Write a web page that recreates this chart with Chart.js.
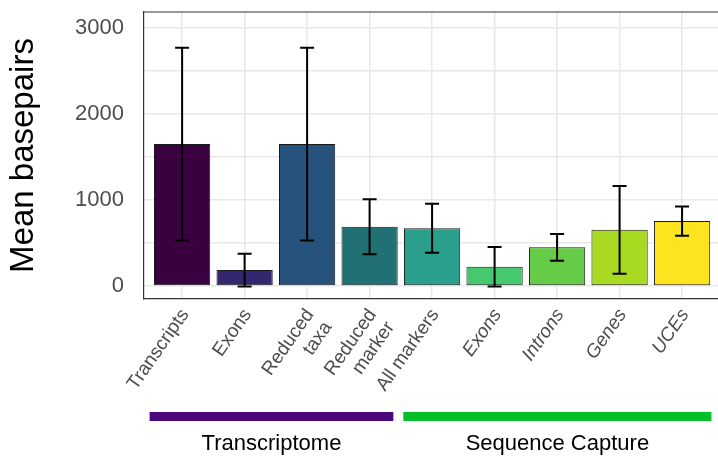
<!DOCTYPE html>
<html>
<head>
<meta charset="utf-8">
<script src="https://cdn.jsdelivr.net/npm/chart.js@4"></script>
<style>
  html, body { margin: 0; padding: 0; background: #fff; }
  #wrap { width: 718px; height: 457px; }
</style>
</head>
<body>
<div id="wrap"><canvas id="myChart" width="718" height="457"></canvas></div>
<script>
const categories = [
  'Transcripts',
  'Exons',
  ['Reduced', 'taxa'],
  ['Reduced', 'marker'],
  'All markers',
  'Exons',
  'Introns',
  'Genes',
  'UCEs',
];
const meanBp = [1650, 185, 1650, 690, 672, 225, 450, 653, 755];
const errBp = [1120, 190, 1120, 320, 285, 230, 155, 510, 170];
const yTicks = [0, 500, 1000, 1500, 2000, 2500, 3000];

// sample groups, in category units
const groupNames = ['Transcriptome', 'Sequence Capture'];
const groupFrom = [-0.52, 3.54];
const groupTo = [3.38, 8.47];

const barColors = ['#3a0040', '#34266f', '#27527c', '#217074', '#2aa08c',
                   '#45c86e', '#66cb47', '#a8da22', '#fce51e'];
const groupColors = ['#4b0679', '#05bf2a'];
const FONT = '"Liberation Sans", Arial, Helvetica, sans-serif';

const ctx = document.getElementById('myChart').getContext('2d');

// keep the panel edges where we put them
function noPadding(scale) {
  scale.paddingLeft = 0;
  scale.paddingRight = 0;
  scale.paddingTop = 0;
  scale.paddingBottom = 0;
}

const errorBars = {
  id: 'errorBars',
  afterDatasetsDraw(chart) {
    const {ctx, scales: {x, y}} = chart;
    ctx.save();
    ctx.strokeStyle = '#000';
    ctx.lineWidth = 2;
    meanBp.forEach((m, i) => {
      const px = x.getPixelForValue(i);
      const top = y.getPixelForValue(m + errBp[i]);
      const bot = y.getPixelForValue(m - errBp[i]);
      ctx.beginPath();
      ctx.moveTo(px, top); ctx.lineTo(px, bot);
      ctx.moveTo(px - 7, top); ctx.lineTo(px + 7, top);
      ctx.moveTo(px - 7, bot); ctx.lineTo(px + 7, bot);
      ctx.stroke();
    });
    ctx.restore();
  },
};

const panelTop = {
  id: 'panelTop',
  afterDraw(chart) {
    const {ctx, chartArea} = chart;
    ctx.save();
    ctx.strokeStyle = '#333333';
    ctx.lineWidth = 1.2;
    ctx.beginPath();
    ctx.moveTo(chartArea.left, chartArea.top);
    ctx.lineTo(chartArea.right, chartArea.top);
    ctx.stroke();
    ctx.restore();
  },
};

const groupBars = {
  id: 'groupBars',
  afterDraw(chart) {
    const {ctx, scales: {x}} = chart;
    ctx.save();
    groupNames.forEach((name, g) => {
      const x0 = x.getPixelForValue(groupFrom[g]);
      const x1 = x.getPixelForValue(groupTo[g]);
      ctx.fillStyle = groupColors[g];
      ctx.fillRect(x0, 412, x1 - x0, 9);
      ctx.fillStyle = '#000';
      ctx.font = '22px ' + FONT;
      ctx.textAlign = 'center';
      ctx.textBaseline = 'alphabetic';
      ctx.fillText(name, (x0 + x1) / 2, 450);
    });
    ctx.restore();
  },
};

const data = {
  datasets: [{
    data: meanBp.map((m, i) => ({x: i, y: m})),
    backgroundColor: barColors,
    borderColor: '#1a1a1a',
    borderWidth: 1,
    borderSkipped: false,
    barPercentage: 0.9,
    categoryPercentage: 1,
  }],
};

const config = {
  type: 'bar',
  data: data,
  plugins: [errorBars, panelTop, groupBars],
  options: {
    responsive: false,
    animation: false,
    layout: {padding: {top: 12, left: 0, right: 0, bottom: 0}},
    plugins: {legend: {display: false}, tooltip: {enabled: false}},
    scales: {
      x: {
        type: 'linear',
        offset: false,
        min: -0.61,
        max: 8.575,
        afterBuildTicks: (scale) => {
          scale.ticks = categories.map((_, i) => ({value: i}));
        },
        afterFit: (scale) => { scale.height = 158; noPadding(scale); },
        grid: {color: '#e8e8e8', lineWidth: 1.5, drawTicks: false, offset: false},
        border: {display: true, color: '#333333', width: 1.2},
        ticks: {
          autoSkip: false,
          minRotation: 55,
          maxRotation: 55,
          padding: 6,
          labelOffset: 3,
          color: '#4d4d4d',
          font: (c) => ({
            family: FONT,
            size: 19,
            lineHeight: 1.15,
            style: c.index >= 5 ? 'italic' : 'normal',
          }),
          callback: (value) => categories[value],
        },
      },
      y: {
        min: -151,
        max: 3186,
        afterBuildTicks: (scale) => {
          scale.ticks = yTicks.map((v) => ({value: v}));
        },
        afterFit: (scale) => { scale.width = 144; noPadding(scale); },
        grid: {color: '#e8e8e8', lineWidth: 1.5, drawTicks: false},
        border: {display: true, color: '#333333', width: 1.2},
        ticks: {
          padding: 20,
          color: '#4d4d4d',
          font: {family: FONT, size: 22},
          callback: (value) => (value % 1000 === 0 ? value : ''),
        },
        title: {
          display: true,
          text: 'Mean basepairs',
          color: '#000',
          font: {family: FONT, size: 33},
          padding: {top: 4, bottom: 0},
        },
      },
    },
  },
};

const myChart = new Chart(ctx, config);
</script>
</body>
</html>
